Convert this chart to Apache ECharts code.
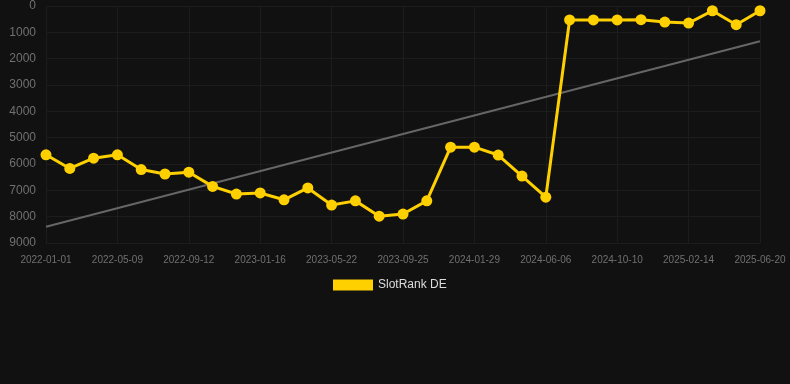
<!DOCTYPE html>
<html>
<head>
<meta charset="utf-8">
<script src="https://cdn.jsdelivr.net/npm/echarts@6/dist/echarts.min.js"></script>
<style>html,body{margin:0;padding:0;background:#111111;}#c{width:790px;height:384px;}</style>
</head>
<body>
<div id="c"></div>
<script>
const categories = ["2022-01-01","2022-02-12","2022-03-26","2022-05-09","2022-06-20","2022-08-01","2022-09-12","2022-10-24","2022-12-05","2023-01-16","2023-02-27","2023-04-10","2023-05-22","2023-07-03","2023-08-14","2023-09-25","2023-11-06","2023-12-18","2024-01-29","2024-03-11","2024-04-22","2024-06-06","2024-07-18","2024-08-29","2024-10-10","2024-11-21","2025-01-02","2025-02-14","2025-03-28","2025-05-09","2025-06-20"];
const rankValues = [5650,6170,5780,5650,6210,6380,6310,6850,7140,7100,7360,6910,7560,7400,7980,7900,7400,5360,5360,5660,6460,7260,530,530,530,520,610,650,180,710,180];
const trendStart = 8380;
const trendEnd = 1340;
const yTicks = {min:0, max:9000, interval:1000};

const trendData = categories.map((c,i)=> i===0 ? trendStart : (i===categories.length-1 ? trendEnd : null));

const chart = echarts.init(document.getElementById('c'), null, {renderer:'canvas'});
chart.setOption({
  backgroundColor:'#111111',
  animation:false,
  grid:{left:46, right:30, top:6, bottom:141, containLabel:false},
  legend:{
    data:[{name:'SlotRank DE', icon:'rect'}],
    top:274, left:328,
    itemWidth:40, itemHeight:11,
    textStyle:{color:'#dddddd', fontSize:12, fontFamily:'Arial, Liberation Sans, sans-serif'},
    itemStyle:{color:'#ffd000'}
  },
  xAxis:{
    type:'category', data:categories, boundaryGap:false,
    axisLine:{show:false}, axisTick:{show:false},
    axisLabel:{interval:2, color:'#707070', fontSize:10, margin:12, fontFamily:'Arial, Liberation Sans, sans-serif'},
    splitLine:{show:true, interval:2, lineStyle:{color:'#1c1c1c', width:1}}
  },
  yAxis:{
    type:'value', inverse:true, min:yTicks.min, max:yTicks.max, interval:yTicks.interval,
    axisLine:{show:false}, axisTick:{show:false},
    axisLabel:{color:'#707070', fontSize:12, margin:10, fontFamily:'Arial, Liberation Sans, sans-serif', formatter:(v)=>String(v)},
    splitLine:{show:true, lineStyle:{color:'#1c1c1c', width:1}}
  },
  series:[
    {
      name:'Trend', type:'line', data:trendData, connectNulls:true,
      symbol:'none', lineStyle:{color:'#666666', width:2}, silent:true, z:1
    },
    {
      name:'SlotRank DE', type:'line', data:rankValues,
      symbol:'circle', symbolSize:11,
      lineStyle:{color:'#ffd000', width:3},
      itemStyle:{color:'#ffd000'}, z:2
    }
  ]
});
</script>
</body>
</html>
